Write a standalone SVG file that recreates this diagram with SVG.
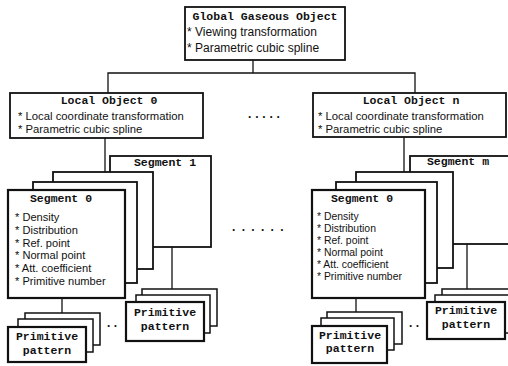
<svg xmlns="http://www.w3.org/2000/svg" width="508" height="366" viewBox="0 0 508 366">
<style>
.box{fill:#fff;stroke:#111;stroke-width:1.8}
.fb{fill:#fff;stroke:#111;stroke-width:2.2}
.pb{fill:#fff;stroke:#111;stroke-width:1.5}
.ln{fill:none;stroke:#111;stroke-width:1.3}
.mt{font-family:"Liberation Mono","Courier New",monospace;font-weight:bold;font-size:11.5px;fill:#111}
.st{font-family:"Liberation Sans",Arial,sans-serif;font-size:12px;fill:#111}
.so{font-family:"Liberation Sans",Arial,sans-serif;font-size:11.3px;fill:#111}
.sl{font-family:"Liberation Sans",Arial,sans-serif;font-size:11.1px;fill:#111}
.sr{font-family:"Liberation Sans",Arial,sans-serif;font-size:10.4px;fill:#111}
.dt{font-family:"Liberation Sans",Arial,sans-serif;font-weight:bold;font-size:12px;fill:#111}
</style>
<rect width="508" height="366" fill="#fff"/>
<g id="connectors">
<polyline class="ln" points="253,60 253,73"/>
<polyline class="ln" points="108,93 108,73 415,73 415,93"/>
<polyline class="ln" points="105,138 105,172"/>
<polyline class="ln" points="404,137 404,172"/>
<polyline class="ln" points="172,247 172,289"/>
<polyline class="ln" points="62,298 62,313"/>
<polyline class="ln" points="467,244 467,289"/>
<polyline class="ln" points="356,298 356,312"/>
</g>
<g id="global">
<rect class="box" x="185" y="7" width="160" height="53"/>
<text class="mt" x="265" y="20" text-anchor="middle">Global Gaseous Object</text>
<text class="st" x="187" y="36">* Viewing transformation</text>
<text class="st" x="187" y="52">* Parametric cubic spline</text>
</g>
<g id="local0">
<rect class="box" x="10" y="93" width="193" height="45"/>
<text class="mt" x="109" y="104" text-anchor="middle">Local Object 0</text>
<text class="so" x="18" y="120">* Local coordinate transformation</text>
<text class="so" x="18" y="133">* Parametric cubic spline</text>
</g>
<g id="localn">
<rect class="box" x="313" y="93" width="193" height="44"/>
<text class="mt" x="411" y="104" text-anchor="middle">Local Object n</text>
<text class="so" x="318" y="119.5">* Local coordinate transformation</text>
<text class="so" x="318" y="132.5">* Parametric cubic spline</text>
</g>
<g id="dots1"><text class="dt" x="248" y="118" letter-spacing="3.8">.....</text></g>
<g id="dots2"><text class="dt" x="232" y="231" letter-spacing="6.3">......</text></g>
<g id="segment1">
<rect class="box" x="110" y="156" width="101" height="91"/>
<text class="mt" x="165" y="166" text-anchor="middle">Segment 1</text>
</g>
<g id="segstack0">
<rect class="box" x="53" y="172" width="100" height="97"/>
<rect class="box" x="33" y="182" width="104" height="101"/>
</g>
<g id="segment0">
<rect class="fb" x="8" y="190" width="117" height="108"/>
<text class="mt" x="61" y="202" text-anchor="middle">Segment 0</text>
<text class="sl" x="15" y="221">* Density</text>
<text class="sl" x="15" y="233.8">* Distribution</text>
<text class="sl" x="15" y="246.6">* Ref. point</text>
<text class="sl" x="15" y="259.4">* Normal point</text>
<text class="sl" x="15" y="272.2">* Att. coefficient</text>
<text class="sl" x="15" y="285">* Primitive number</text>
</g>
<g id="segmentm">
<rect class="box" x="410" y="156" width="102" height="88"/>
<text class="mt" x="458" y="165" text-anchor="middle">Segment m</text>
</g>
<g id="segstackn">
<rect class="box" x="356" y="172" width="97" height="96"/>
<rect class="box" x="336" y="182" width="101" height="101"/>
</g>
<g id="segment0n">
<rect class="fb" x="312" y="190" width="113" height="108"/>
<text class="mt" x="362" y="202" text-anchor="middle">Segment 0</text>
<text class="sr" x="317" y="220">* Density</text>
<text class="sr" x="317" y="232">* Distribution</text>
<text class="sr" x="317" y="244">* Ref. point</text>
<text class="sr" x="317" y="256">* Normal point</text>
<text class="sr" x="317" y="268">* Att. coefficient</text>
<text class="sr" x="317" y="280">* Primitive number</text>
</g>
<g id="prim-lb">
<rect class="pb" x="25" y="313" width="75" height="32"/>
<rect class="pb" x="18" y="319" width="75" height="33"/>
<rect class="fb" x="8" y="327" width="78" height="35"/>
<text class="mt" x="47" y="340" text-anchor="middle">Primitive</text>
<text class="mt" x="47" y="354" text-anchor="middle">pattern</text>
</g>
<g id="prim-lr">
<rect class="pb" x="142" y="289" width="75" height="37"/>
<rect class="pb" x="136" y="295" width="74" height="38"/>
<rect class="fb" x="126" y="302" width="78" height="39"/>
<text class="mt" x="165" y="316" text-anchor="middle">Primitive</text>
<text class="mt" x="165" y="330" text-anchor="middle">pattern</text>
</g>
<g id="dots3"><text class="dt" x="107" y="327" letter-spacing="3.5">..</text></g>
<g id="prim-rb">
<rect class="pb" x="327" y="312" width="75" height="32"/>
<rect class="pb" x="321" y="318" width="73" height="32"/>
<rect class="fb" x="312" y="326" width="75" height="37"/>
<text class="mt" x="350" y="339" text-anchor="middle">Primitive</text>
<text class="mt" x="350" y="352" text-anchor="middle">pattern</text>
</g>
<g id="dots4"><text class="dt" x="409" y="327" letter-spacing="3.5">..</text></g>
<g id="prim-rr">
<rect class="pb" x="442" y="289" width="70" height="37"/>
<rect class="pb" x="435" y="295" width="77" height="38"/>
<rect class="fb" x="427" y="302" width="78" height="37"/>
<text class="mt" x="466" y="314" text-anchor="middle">Primitive</text>
<text class="mt" x="466" y="328" text-anchor="middle">pattern</text>
</g>
</svg>
